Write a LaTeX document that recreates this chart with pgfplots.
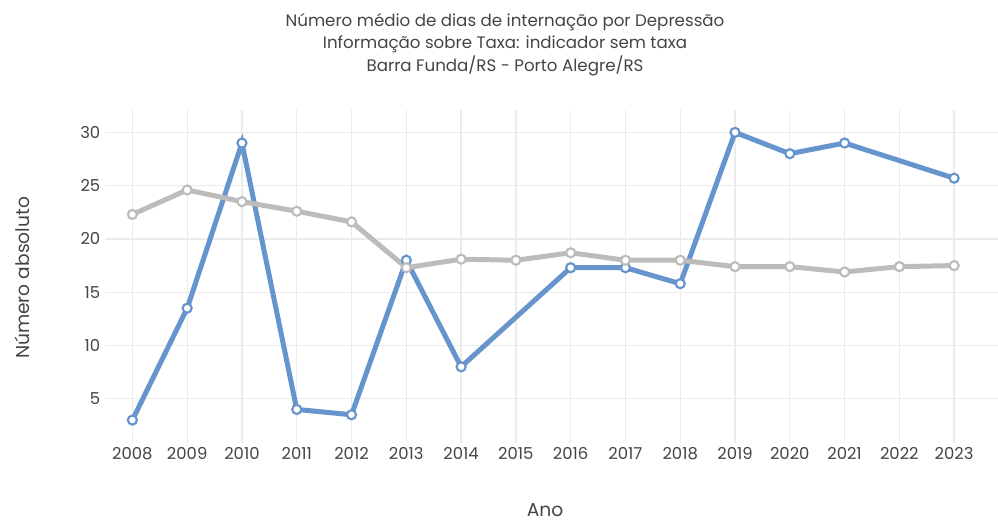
\documentclass[border=0pt]{standalone}
\usepackage{fontspec}
\setmainfont{Poppins}
\usepackage{pgfplots}
\pgfplotsset{compat=1.18}
\definecolor{blueS}{HTML}{6694CC}
\definecolor{grayS}{HTML}{BCBCBC}
\definecolor{txt}{HTML}{444444}
\definecolor{gridc}{HTML}{EBEBEB}
\begin{document}
\begin{tikzpicture}[x=0.75pt,y=0.75pt]
\path[use as bounding box] (0,0) rectangle (998,521);
\begin{axis}[
  at={(78.75pt,58.5pt)}, anchor=south west, scale only axis,
  width=669.75pt, height=249.75pt,
  xmin=2007.5, xmax=2023.8, ymin=0.85, ymax=32.1,
  axis line style={draw=none}, tick style={draw=none},
  grid=major, grid style={gridc, line width=1pt},
  xtick={2008,...,2023},
  xticklabels={2008,2009,2010,2011,2012,2013,2014,2015,2016,2017,2018,2019,2020,2021,2022,2023},
  ytick={5,10,15,20,25,30},
  /pgf/number format/assume math mode=true,
  ticklabel style={font=\fontsize{12.3}{14}\selectfont, text=txt},
  clip=false,
]
\addplot[blueS, line width=3.75pt, mark=*, mark size=3.4pt,
  mark options={fill=white, draw=blueS, line width=1.6pt}]
  coordinates {(2008,3) (2009,13.5) (2010,29) (2011,4) (2012,3.5) (2013,18) (2014,8)
   (2016,17.3) (2017,17.3) (2018,15.8) (2019,30) (2020,28) (2021,29) (2023,25.7)};
\addplot[grayS, line width=3.75pt, mark=*, mark size=3.4pt,
  mark options={fill=white, draw=grayS, line width=1.6pt}]
  coordinates {(2008,22.3) (2009,24.6) (2010,23.5) (2011,22.6) (2012,21.6) (2013,17.3)
   (2014,18.1) (2015,18.0) (2016,18.7) (2017,18.0) (2018,18.0) (2019,17.4) (2020,17.4)
   (2021,16.9) (2022,17.4) (2023,17.5)};
\end{axis}
\node[text=txt, font=\fontsize{12.5}{14}\selectfont] at (505,499) {Número médio de dias de internação por Depressão};
\node[text=txt, font=\fontsize{12.5}{14}\selectfont] at (505,477) {Informação sobre Taxa: indicador sem taxa};
\node[text=txt, font=\fontsize{12.5}{14}\selectfont] at (505,455) {Barra Funda/RS - Porto Alegre/RS};
\node[text=txt, font=\fontsize{14}{16}\selectfont, rotate=90] at (22,243) {Número absoluto};
\node[text=txt, font=\fontsize{14}{16}\selectfont] at (545,11) {Ano};
\end{tikzpicture}
\end{document}
